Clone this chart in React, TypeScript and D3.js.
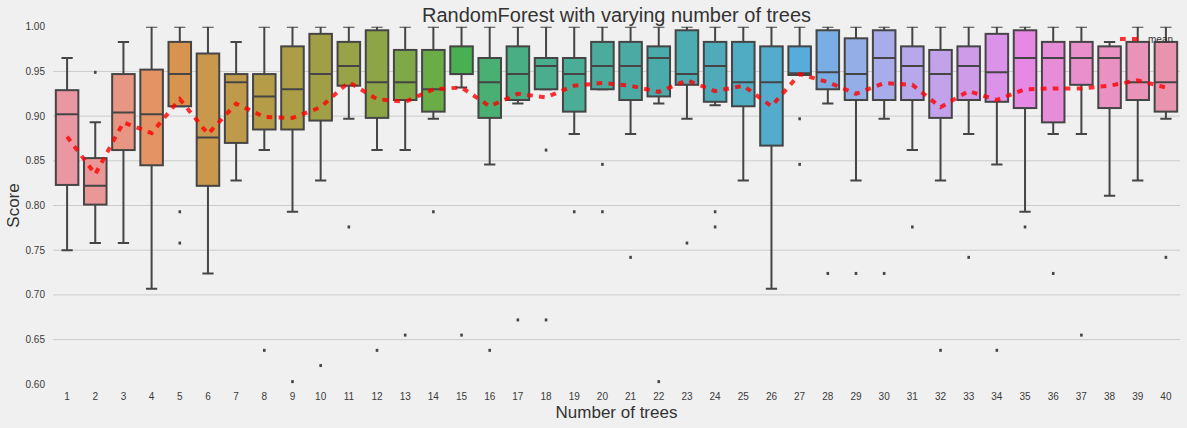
import React from "react";
import * as d3 from "d3";

// ---------- data ----------
const categories = Array.from({ length: 40 }, (_, i) => String(i + 1));

const whiskerLow = [0.750,0.758,0.758,0.707,0.911,0.724,0.828,0.862,0.793,0.828,0.897,0.862,0.862,0.897,0.932,0.846,0.914,0.930,0.880,0.930,0.880,0.914,0.897,0.912,0.828,0.707,0.946,0.914,0.828,0.897,0.862,0.828,0.880,0.846,0.793,0.880,0.880,0.811,0.828,0.897];
const q1Values = [0.823,0.801,0.862,0.845,0.911,0.822,0.870,0.885,0.885,0.895,0.934,0.898,0.918,0.905,0.947,0.898,0.918,0.930,0.905,0.930,0.918,0.922,0.935,0.916,0.911,0.867,0.946,0.930,0.918,0.918,0.918,0.898,0.918,0.916,0.909,0.893,0.935,0.909,0.918,0.905];
const medianValues = [0.902,0.822,0.904,0.902,0.947,0.876,0.938,0.922,0.930,0.947,0.956,0.938,0.938,0.930,0.947,0.938,0.947,0.956,0.947,0.956,0.956,0.965,0.947,0.956,0.938,0.938,0.948,0.949,0.947,0.965,0.956,0.947,0.956,0.949,0.965,0.965,0.965,0.965,0.938,0.938];
const q3Values = [0.929,0.853,0.947,0.952,0.983,0.970,0.947,0.947,0.978,0.992,0.983,0.996,0.974,0.974,0.978,0.965,0.978,0.965,0.965,0.983,0.983,0.978,0.996,0.983,0.983,0.978,0.978,0.996,0.987,0.996,0.978,0.974,0.978,0.992,0.996,0.983,0.983,0.978,0.983,0.983];
const whiskerHigh = [0.965,0.893,0.983,1.0,1.0,1.0,0.983,1.0,1.0,1.0,1.0,1.0,1.0,1.0,1.0,1.0,1.0,1.0,1.0,1.0,1.0,1.0,1.0,1.0,1.0,1.0,1.0,1.0,1.0,1.0,1.0,1.0,1.0,1.0,1.0,1.0,1.0,0.983,1.0,1.0];
const meanValues = [0.877,0.835,0.893,0.881,0.919,0.880,0.914,0.899,0.898,0.910,0.938,0.919,0.916,0.930,0.932,0.911,0.925,0.921,0.934,0.937,0.934,0.927,0.940,0.928,0.934,0.911,0.947,0.938,0.925,0.937,0.935,0.910,0.928,0.918,0.930,0.931,0.931,0.934,0.940,0.932];
const outlierValues: number[][] = [
  [], [0.949], [], [], [0.793, 0.758], [], [], [0.638], [0.603], [0.621],
  [0.776], [0.638], [0.655], [0.793], [0.655], [0.638], [0.672], [0.862, 0.672], [0.793], [0.846, 0.793],
  [0.742], [0.603], [0.758], [0.793, 0.776], [], [], [0.897, 0.846], [0.724], [0.724], [0.724],
  [0.776], [0.638], [0.742], [0.638], [0.776], [0.724], [0.655], [], [], [0.742],
];
const yTicks = [0.6, 0.65, 0.7, 0.75, 0.8, 0.85, 0.9, 0.95, 1.0];

// ---------- seaborn-like husl palette ----------
const M = [
  [3.2406, -1.5372, -0.4986],
  [-0.9689, 1.8758, 0.0415],
  [0.0557, -0.204, 1.057],
];
function maxChroma(L: number, H: number) {
  const hrad = (H * Math.PI) / 180;
  const sinH = Math.sin(hrad), cosH = Math.cos(hrad);
  const sub1 = Math.pow(L + 16, 3) / 1560896.0;
  const sub2 = sub1 > 0.008856 ? sub1 : L / 903.3;
  let result = Infinity;
  for (const [m1, m2, m3] of M) {
    const top = (0.99915 * m1 + 1.05122 * m2 + 1.1446 * m3) * sub2;
    const rbottom = 0.8633 * m3 - 0.17266 * m2;
    const lbottom = 0.12949 * m3 - 0.38848 * m1;
    const bottom = (rbottom * sinH + lbottom * cosH) * sub2;
    for (const t of [0, 1]) {
      const C = (L * (top - 1.05122 * t)) / (bottom + 0.17266 * sinH * t);
      if (C > 0 && C < result) result = C;
    }
  }
  return result;
}
function fInv(t: number) {
  return Math.pow(t, 3) > 0.008856 ? Math.pow(t, 3) : (116 * t - 16) / 903.3;
}
function fromLinear(c: number) {
  return c <= 0.0031308 ? 12.92 * c : 1.055 * Math.pow(c, 1 / 2.4) - 0.055;
}
function huslToRgb(h: number, s: number, l: number): number[] {
  const C = (maxChroma(l, h) / 100) * s;
  const hr = (h * Math.PI) / 180;
  const U = C * Math.cos(hr), V = C * Math.sin(hr);
  const varY = fInv((l + 16) / 116);
  const varU = U / (13 * l) + 0.19784;
  const varV = V / (13 * l) + 0.46834;
  const Y = varY;
  const X = -(9 * Y * varU) / ((varU - 4) * varV - varU * varV);
  const Z = (9 * Y - 15 * varV * Y - varV * X) / (3 * varV);
  return M.map((r) => Math.min(1, Math.max(0, fromLinear(r[0] * X + r[1] * Y + r[2] * Z))));
}
const nCol = categories.length;
const palette = d3.range(nCol).map((i) => {
  const h = ((i / nCol + 0.01) % 1) * 359;
  const [r, g, b] = huslToRgb(h, 0.9 * 99, 0.7 * 99);
  const c = d3.hsl(d3.rgb(r * 255, g * 255, b * 255));
  c.s *= 0.75;
  return c;
});
const minL = d3.min(palette, (c) => c.l) as number;
const lum = Math.round(minL * 0.6 * 255);
const gray = d3.rgb(lum, lum, lum).formatHex();
const fills = palette.map((c) => c.formatHex());

// ---------- layout ----------
const W = 1187, H = 428;
const left = 53, right = 1180, top = 26.7, bottom = 384.3;
const FONT = "'Liberation Sans', Arial, sans-serif";

export default function App() {
  const x = d3.scaleBand<string>().domain(categories).range([left, right]).padding(0);
  const y = d3.scaleLinear().domain([0.6, 1.0]).range([bottom, top]);
  const bw = x.bandwidth() * 0.8;
  const cw = bw * 0.5;
  const cx = (i: number) => (x(categories[i]) as number) + x.bandwidth() / 2;
  const meanLine = d3
    .line<number>()
    .x((_, i) => cx(i))
    .y((d) => y(d))(meanValues) as string;

  return (
    <svg
      width={W}
      height={H}
      style={{ position: "absolute", left: 0, top: 0, background: "#f0f0f0" }}
    >
      <rect x={0} y={0} width={W} height={H} fill="#f0f0f0" />
      <defs>
        <clipPath id="plotclip">
          <rect x={left} y={top} width={right - left} height={bottom - top} />
        </clipPath>
      </defs>
      {/* grid */}
      {yTicks.filter((t) => t > 0.61 && t < 0.99).map((t) => (
        <line key={t} x1={left} x2={right} y1={y(t)} y2={y(t)} stroke="#cbcbcb" strokeWidth={1} />
      ))}
      {/* y tick labels */}
      {yTicks.map((t) => (
        <text key={t} x={45} y={y(t)} dy="0.35em" textAnchor="end" fontSize={10} fill="#3a3a3a" fontFamily={FONT}>
          {t.toFixed(2)}
        </text>
      ))}
      {/* x tick labels */}
      {categories.map((c, i) => (
        <text key={c} x={cx(i)} y={400} textAnchor="middle" fontSize={10} fill="#3a3a3a" fontFamily={FONT}>
          {c}
        </text>
      ))}
      <g clipPath="url(#plotclip)">
        {categories.map((c, i) => {
          const xc = cx(i);
          return (
            <g key={c}>
              <line x1={xc} x2={xc} y1={y(q3Values[i])} y2={y(whiskerHigh[i])} stroke={gray} strokeWidth={2} />
              <line x1={xc} x2={xc} y1={y(q1Values[i])} y2={y(whiskerLow[i])} stroke={gray} strokeWidth={2} />
              <line x1={xc - cw / 2} x2={xc + cw / 2} y1={y(whiskerHigh[i])} y2={y(whiskerHigh[i])} stroke={gray} strokeWidth={2} />
              <line x1={xc - cw / 2} x2={xc + cw / 2} y1={y(whiskerLow[i])} y2={y(whiskerLow[i])} stroke={gray} strokeWidth={2} />
              <rect
                x={xc - bw / 2}
                y={y(q3Values[i])}
                width={bw}
                height={y(q1Values[i]) - y(q3Values[i])}
                fill={fills[i]}
                stroke={gray}
                strokeWidth={2}
              />
              <line x1={xc - bw / 2} x2={xc + bw / 2} y1={y(medianValues[i])} y2={y(medianValues[i])} stroke={gray} strokeWidth={2} />
              {outlierValues[i].map((v, k) => (
                <rect key={k} x={xc - 1.3} y={y(v) - 1.5} width={2.6} height={3} fill={gray} />
              ))}
            </g>
          );
        })}
        <path d={meanLine} fill="none" stroke="rgba(255,0,0,0.8)" strokeWidth={4} strokeDasharray="5.7 6.3" />
      </g>
      {/* legend */}
      <line x1={1120} x2={1138} y1={39} y2={39} stroke="rgba(255,0,0,0.8)" strokeWidth={4} strokeDasharray="5.7 6.3" />
      <text x={1148} y={43} fontSize={10} fill="#333" fontFamily={FONT}>mean</text>
      {/* titles */}
      <text x={(left + right) / 2} y={22} textAnchor="middle" fontSize={20} fill="#333" fontFamily={FONT}>
        RandomForest with varying number of trees
      </text>
      <text x={(left + right) / 2} y={418} textAnchor="middle" fontSize={17} fill="#333" fontFamily={FONT}>
        Number of trees
      </text>
      <text transform={`translate(19, ${(top + bottom) / 2}) rotate(-90)`} textAnchor="middle" fontSize={17} fill="#333" fontFamily={FONT}>
        Score
      </text>
    </svg>
  );
}
